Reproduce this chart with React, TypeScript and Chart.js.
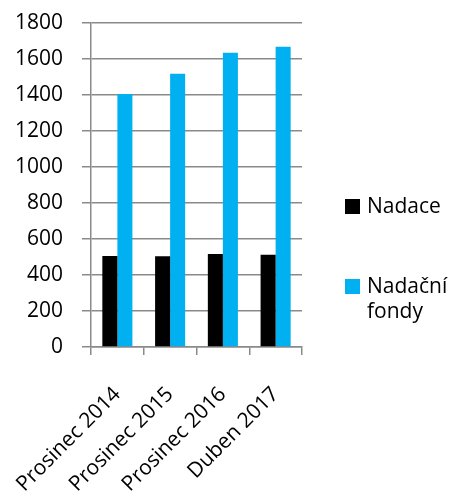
import React, { useEffect, useRef } from "react";
import { Chart, registerables } from "chart.js";

Chart.register(...registerables);

const categories = ["Prosinec 2014", "Prosinec 2015", "Prosinec 2016", "Duben 2017"];
const nadace = [506, 504, 516, 512];
const nadacniFondy = [1405, 1518, 1635, 1668];
const seriesNames = ["Nadace", "Nadační fondy"];
const seriesColors = ["#000000", "#00B0F0"];
const yMin = 0;
const yMax = 1800;
const yStep = 200;

const FONT_FAMILY = "'Open Sans', sans-serif";
const FONT_SIZE = 21;
const GRID_COLOR = "#8a8a8a";

const W = 456;
const H = 495;

function wrapText(ctx: CanvasRenderingContext2D, text: string, maxW: number): string[] {
  const words = text.split(" ");
  const lines: string[] = [];
  let cur = "";
  for (const w of words) {
    const test = cur ? cur + " " + w : w;
    if (cur && ctx.measureText(test).width > maxW) {
      lines.push(cur);
      cur = w;
    } else {
      cur = test;
    }
  }
  if (cur) lines.push(cur);
  return lines;
}

const sideLegend = {
  id: "sideLegend",
  afterDraw(chart: any) {
    const ctx: CanvasRenderingContext2D = chart.ctx;
    ctx.save();
    ctx.font = `${FONT_SIZE}px ${FONT_FAMILY}`;
    ctx.textBaseline = "alphabetic";
    ctx.textAlign = "left";
    const boxX = 345;
    const boxSize = 15;
    const textX = 367;
    const maxW = W - textX - 2;
    const boxTops = [199, 279];
    chart.data.datasets.forEach((ds: any, i: number) => {
      const top = boxTops[i];
      ctx.fillStyle = ds.backgroundColor;
      ctx.fillRect(boxX, top, boxSize, boxSize);
      ctx.fillStyle = "#000";
      const lines = wrapText(ctx, ds.label, maxW);
      lines.forEach((ln, j) => ctx.fillText(ln, textX, top + 14 + j * 25));
    });
    ctx.restore();
  },
};

export default function App() {
  const ref = useRef<HTMLCanvasElement>(null);
  useEffect(() => {
    if (!ref.current) return;
    const chart = new Chart(ref.current, {
      type: "bar",
      data: {
        labels: categories,
        datasets: [
          { label: seriesNames[0], data: nadace, backgroundColor: seriesColors[0] },
          { label: seriesNames[1], data: nadacniFondy, backgroundColor: seriesColors[1] },
        ],
      },
      options: {
        responsive: false,
        animation: false,
        devicePixelRatio: 1,
        layout: { padding: { left: 0, top: 23, right: W - 302, bottom: 0 } },
        datasets: {
          bar: { categoryPercentage: 0.57, barPercentage: 1.0 },
        },
        plugins: {
          legend: { display: false },
          tooltip: { enabled: false },
        },
        scales: {
          x: {
            grid: {
              offset: true,
              drawOnChartArea: false,
              drawTicks: true,
              tickLength: 8,
              color: GRID_COLOR,
              lineWidth: 1.5,
            },
            border: { color: GRID_COLOR, width: 1.5 },
            ticks: {
              color: "#000",
              font: { family: FONT_FAMILY, size: FONT_SIZE },
              maxRotation: 45,
              minRotation: 45,
              padding: 27,
              autoSkip: false,
            },
            afterFit(axis: any) {
              axis.height = H - 347;
              axis.paddingLeft = 0;
              axis.paddingRight = 0;
            },
          },
          y: {
            min: yMin,
            max: yMax,
            grid: {
              color: GRID_COLOR,
              lineWidth: 1.5,
              drawTicks: true,
              tickLength: 9,
            },
            border: { color: GRID_COLOR, width: 1.5 },
            ticks: {
              stepSize: yStep,
              color: "#000",
              font: { family: FONT_FAMILY, size: FONT_SIZE },
              padding: 19,
              callback: (v: any) => String(v),
            },
            afterFit(axis: any) {
              axis.width = 91;
              axis.paddingTop = 0;
              axis.paddingBottom = 0;
            },
          },
        },
      },
      plugins: [sideLegend],
    });
    return () => chart.destroy();
  }, []);
  return (
    <div style={{ position: "fixed", left: 0, top: 0, width: W, height: H, background: "#fff" }}>
      <canvas ref={ref} width={W} height={H} style={{ display: "block" }} />
    </div>
  );
}
